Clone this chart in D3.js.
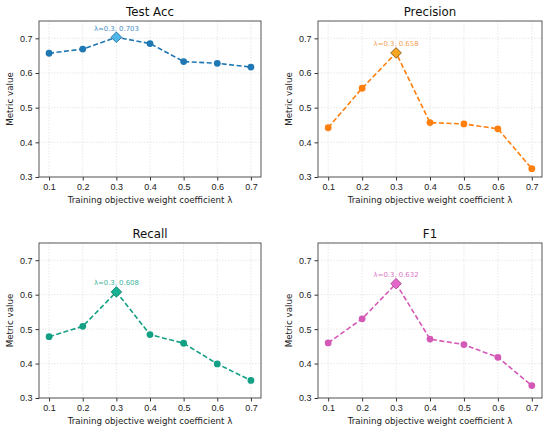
<!DOCTYPE html>
<html lang="en">
<head>
    <meta charset="UTF-8">
    <title>Metric vs lambda</title>
    <style>
        body {
            margin: 0;
            background: #fff;
        }
        svg {
            font-family: "DejaVu Sans", sans-serif;
        }
        .grid line {
            stroke: #d6d6d6;
            stroke-width: 0.6;
            stroke-dasharray: 1.5, 1.5;
        }
        .tick text {
            font-size: 9px;
            fill: #222;
        }
        .tick line {
            stroke: #333;
        }
    </style>
</head>
<body>
    <svg id="chart" width="550" height="431"></svg>

    <script src="https://d3js.org/d3.v7.min.js"></script>
    <script>
        const lambdas = [0.1, 0.2, 0.3, 0.4, 0.5, 0.6, 0.7];
        const yTicks = [0.3, 0.4, 0.5, 0.6, 0.7];

        const testAcc = [0.657, 0.669, 0.703, 0.685, 0.633, 0.628, 0.617];
        const precision = [0.442, 0.556, 0.658, 0.457, 0.453, 0.439, 0.324];
        const recall = [0.478, 0.508, 0.608, 0.484, 0.459, 0.399, 0.351];
        const f1 = [0.460, 0.530, 0.632, 0.471, 0.455, 0.418, 0.336];

        const titles = ["Test Acc", "Precision", "Recall", "F1"];
        const seriesList = [testAcc, precision, recall, f1];
        const lineColors = ["#1f77b4", "#ff7f0e", "#14a085", "#d458b6"];
        const diamondColors = ["#4fb8ea", "#f5a623", "#18b293", "#e466c9"];
        const labelColors = ["#4a90c8", "#f5a35a", "#3fb59d", "#dd7ac4"];

        // axes boxes [left, top, right, bottom]
        const boxes = [
            [39, 21, 261, 177],
            [318, 21, 542, 177],
            [39, 243, 261, 398],
            [318, 243, 542, 398]
        ];

        const svg = d3.select("#chart");

        seriesList.forEach((values, i) => {
            const [x0, y0, x1, y1] = boxes[i];
            const data = lambdas.map((l, j) => ({ l: l, v: values[j] }));

            const x = d3.scaleLinear().domain([0.07, 0.73]).range([x0, x1]);
            const y = d3.scaleLinear().domain([0.3, 0.75]).range([y1, y0]);

            const g = svg.append("g");

            // grid
            g.append("g").attr("class", "grid")
                .selectAll("line.v").data(lambdas).enter().append("line")
                .attr("x1", d => x(d)).attr("x2", d => x(d))
                .attr("y1", y0).attr("y2", y1);
            g.append("g").attr("class", "grid")
                .selectAll("line.h").data(yTicks).enter().append("line")
                .attr("x1", x0).attr("x2", x1)
                .attr("y1", d => y(d)).attr("y2", d => y(d));

            // axes
            g.append("g")
                .attr("transform", `translate(0,${y1})`)
                .call(d3.axisBottom(x).tickValues(lambdas).tickFormat(d3.format(".1f"))
                    .tickSize(3.5).tickPadding(3))
                .call(a => a.select(".domain").remove());
            g.append("g")
                .attr("transform", `translate(${x0},0)`)
                .call(d3.axisLeft(y).tickValues(yTicks).tickFormat(d3.format(".1f"))
                    .tickSize(3.5).tickPadding(3))
                .call(a => a.select(".domain").remove());

            // frame
            g.append("rect")
                .attr("x", x0).attr("y", y0)
                .attr("width", x1 - x0).attr("height", y1 - y0)
                .attr("fill", "none").attr("stroke", "#444").attr("stroke-width", 0.9);

            // line
            const line = d3.line().x(d => x(d.l)).y(d => y(d.v));
            g.append("path")
                .datum(data)
                .attr("d", line)
                .attr("fill", "none")
                .attr("stroke", lineColors[i])
                .attr("stroke-width", 1.6)
                .attr("stroke-dasharray", "5,2.5");

            g.selectAll("circle").data(data).enter().append("circle")
                .attr("cx", d => x(d.l)).attr("cy", d => y(d.v))
                .attr("r", 3.4)
                .attr("fill", lineColors[i]);

            // best point
            const best = data.reduce((a, b) => (b.v > a.v ? b : a));
            g.append("path")
                .attr("d", d3.symbol().type(d3.symbolDiamond2).size(72)())
                .attr("transform", `translate(${x(best.l)},${y(best.v)})`)
                .attr("fill", diamondColors[i])
                .attr("stroke", i === 1 ? "#7a4a10" : d3.color(lineColors[i]).darker(0.6))
                .attr("stroke-width", 0.8);

            g.append("text")
                .attr("x", x(best.l))
                .attr("y", y(best.v) - 6.5)
                .attr("text-anchor", "middle")
                .attr("font-size", 6.9)
                .attr("fill", labelColors[i])
                .text(`λ=${best.l.toFixed(1)}, ${best.v.toFixed(3)}`);

            // titles and labels
            g.append("text")
                .attr("x", (x0 + x1) / 2)
                .attr("y", y0 - 5)
                .attr("text-anchor", "middle")
                .attr("font-size", 11.8)
                .attr("fill", "#111")
                .text(titles[i]);

            g.append("text")
                .attr("x", (x0 + x1) / 2)
                .attr("y", y1 + 26)
                .attr("text-anchor", "middle")
                .attr("font-size", 8.7)
                .attr("fill", "#222")
                .text("Training objective weight coefficient λ");

            g.append("text")
                .attr("transform", `translate(${x0 - 26},${(y0 + y1) / 2}) rotate(-90)`)
                .attr("text-anchor", "middle")
                .attr("font-size", 8.7)
                .attr("fill", "#222")
                .text("Metric value");
        });
    </script>
</body>
</html>
